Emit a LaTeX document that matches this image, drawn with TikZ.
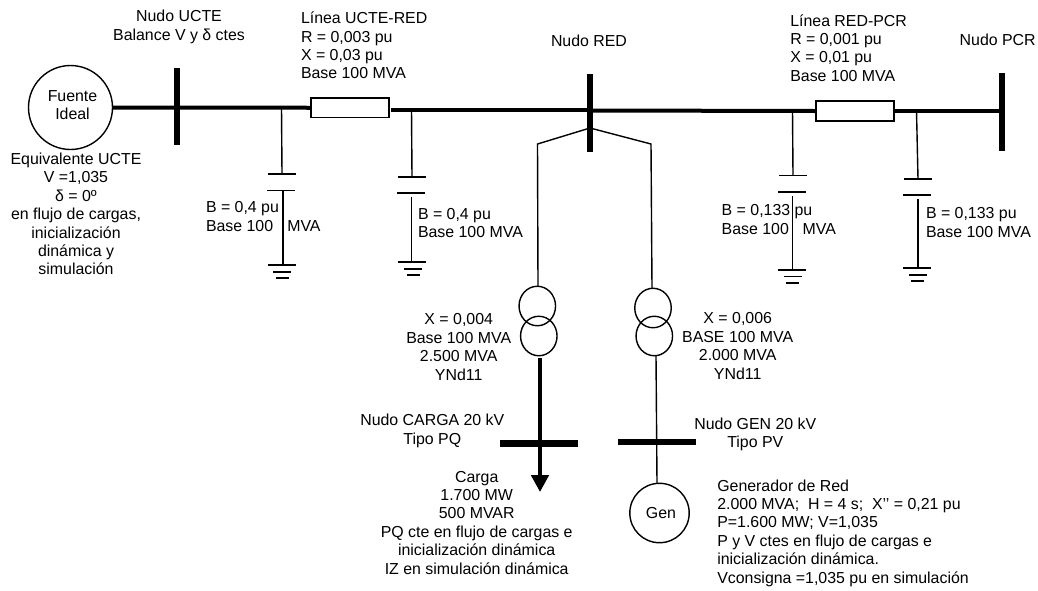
\documentclass[tikz,border=0pt]{standalone}
\usepackage{fontspec}
\setmainfont[Ligatures=NoCommon]{Liberation Sans}
\usetikzlibrary{shapes.geometric}
\tikzset{
  lbl/.style={inner sep=0pt,outer sep=0pt,align=center,font=\fontsize{15.9}{18.4}\selectfont},
  lbll/.style={lbl,align=left},
  hbus/.style={fill=black,inner sep=0pt,outer sep=0pt,minimum width=78pt,minimum height=6.5pt},
  vbus/.style={fill=black,inner sep=0pt,outer sep=0pt,minimum width=6.5pt,minimum height=78pt},
  res/.style={draw=black,fill=white,line width=1.3pt,inner sep=0pt,outer sep=0pt,minimum width=78pt,minimum height=19.5pt},
  plate/.style={fill=black,inner sep=0pt,outer sep=0pt,minimum width=28pt,minimum height=1.5pt},
  gndb/.style={plate,minimum width=18pt},
  gndc/.style={plate,minimum width=13pt},
  power/.style={line width=4pt},
  wire/.style={line width=1.4pt},
  machine/.style={draw=black,line width=1.4pt,circle,inner sep=0pt,outer sep=0pt},
  trafo/.style={draw=black,line width=1.4pt,ellipse,inner sep=0pt,outer sep=0pt,minimum width=36.5pt,minimum height=39.5pt},
  loadtip/.style={fill=black,isosceles triangle,isosceles triangle apex angle=58,shape border rotate=-90,inner sep=0pt,outer sep=0pt,minimum height=16.7pt,minimum width=17.5pt,anchor=apex}
}
\begin{document}
\begin{tikzpicture}[x=1pt,y=-1pt]
\useasboundingbox (0,0) rectangle (1038,590);
% machines, buses, line impedances
\node[machine,minimum size=84pt] (fuente) at (70.5,107.5) {};
\node[vbus,minimum height=77pt] (bucte) at (177,106.5) {};
\node[vbus] (bred) at (590,113) {};
\node[vbus] (bpcr) at (1002,112) {};
\node[res] (r1) at (350,107.75) {};
\node[res,minimum height=20pt] (r2) at (855,111) {};
\node[trafo] (t1a) at (537.3,306) {};
\node[trafo] (t2a) at (653,308) {};
\node[trafo] (t1b) at (538.8,336) {};
\node[trafo] (t2b) at (654.3,336) {};
\node[hbus] (bcarga) at (538.5,443.3) {};
\node[hbus] (bgen) at (657,442) {};
\node[machine,minimum size=59.4pt] (gen) at (659.5,513) {};
\node[loadtip] (tip) at (540,491.7) {};
% junction points
\coordinate (a1) at (281.5,107.5);
\coordinate (a2) at (411.5,109.5);
\coordinate (a3) at (792.5,110.5);
\coordinate (a4) at (916.5,110.5);
\coordinate (r1out) at (391,109.5);
\coordinate (r2out) at (895,110.5);
\coordinate (red2) at (592,110.5);
\coordinate (red1) at (590,109.5);
\coordinate (tapb) at (590,128);
\coordinate (fl) at (537.5,144);
\coordinate (fr) at (651,144);
\coordinate (t1top) at (538,286);
\coordinate (t2top) at (652,288);
\coordinate (t1bot) at (540,358);
\coordinate (t2bot) at (656,356);
\coordinate (gentop) at (657,483.3);
\coordinate (tiptop) at (540,476);
% shunt branches: plates and ground bars
\node[plate] (p1a) at (282,174) {};
\node[plate] (p1b) at (280.5,190.5) {};
\coordinate (s1a) at (283,191);
\coordinate (s1b) at (283,265);
\node[plate] (g1a) at (282,265) {};
\node[gndb] (g1b) at (282,272) {};
\node[gndc] (g1c) at (282.5,278) {};
\node[plate] (p2a) at (412,177) {};
\node[plate] (p2b) at (411,193) {};
\coordinate (s2a) at (411.5,197);
\coordinate (s2b) at (411.5,262);
\node[plate] (g2a) at (412,262) {};
\node[gndb] (g2b) at (412.5,269) {};
\node[gndc] (g2c) at (413,275) {};
\node[plate] (p3a) at (793,175.5) {};
\node[plate] (p3b) at (792,192) {};
\coordinate (s3a) at (792.5,196);
\coordinate (s3b) at (792.5,270);
\node[plate] (g3a) at (792,270) {};
\node[gndb] (g3b) at (793,276.5) {};
\node[gndc] (g3c) at (792.5,283) {};
\node[plate] (p4a) at (918,179) {};
\node[plate] (p4b) at (917,195) {};
\coordinate (s4a) at (918,199);
\coordinate (s4b) at (918,268);
\node[plate] (g4a) at (917,268) {};
\node[gndb] (g4b) at (918,275) {};
\node[gndc] (g4c) at (917.5,281) {};
% connectors
\draw[power] (fuente.east) -- (r1.west);
\draw[power] (r1out) -- (red1);
\draw[power] (red2) -- (r2.west);
\draw[power] (r2out) -- (bpcr.west |- r2out);
\draw[power] (t1bot) -- (tiptop);
\draw[wire] (tapb) -- (fl) -- (t1top);
\draw[wire] (tapb) -- (fr) -- (t2top);
\draw[wire] (t2bot) -- (gentop);
\draw[wire] (a1) -- (p1a);
\draw[wire] (s1a) -- (s1b);
\draw[wire] (a2) -- (p2a);
\draw[wire] (s2a) -- (s2b);
\draw[wire] (a3) -- (p3a);
\draw[wire] (s3a) -- (s3b);
\draw[wire] (a4) -- (s4a |- p4a);
\draw[wire] (s4a) -- (s4b);
% labels
\node[lbl] (l1) at (179,27) {Nudo UCTE\\Balance V y δ ctes};
\node[lbll,anchor=west] (l2) at (301,45.5) {Línea UCTE-RED\\R = 0,003 pu\\X = 0,03 pu\\Base 100 MVA};
\node[lbl] (l3) at (589,41) {Nudo RED};
\node[lbl] (l4) at (997.7,40) {Nudo PCR};
\node[lbll,anchor=west] (l5) at (790.3,48) {Línea RED-PCR\\R = 0,001 pu\\X = 0,01 pu\\Base 100 MVA};
\node[lbl] (l6) at (72.5,105) {Fuente\\Ideal};
\node[lbl] (l7) at (76,214) {Equivalente UCTE\\V =1,035\\δ = 0º\\en flujo de cargas,\\inicialización\\dinámica y\\simulación};
\node[lbll,anchor=west] (l8) at (206,216.5) {B = 0,4 pu\\Base 100\hspace{9.7pt} MVA};
\node[lbll,anchor=west] (l9) at (418,223) {B = 0,4 pu\\Base 100 MVA};
\node[lbll,anchor=west] (l10) at (721.7,219.5) {B = 0,133 pu\\Base 100\hspace{9.3pt} MVA};
\node[lbll,anchor=west] (l11) at (926,222.5) {B = 0,133 pu\\Base 100 MVA};
\node[lbl] (l12) at (458.7,347) {X = 0,004\\Base 100 MVA\\2.500 MVA\\YNd11};
\node[lbl] (l13) at (737.7,346) {X = 0,006\\BASE 100 MVA\\2.000 MVA\\YNd11};
\node[lbl] (l14) at (432.3,431) {Nudo CARGA 20 kV\\Tipo PQ};
\node[lbl] (l15) at (755.3,434.5) {Nudo GEN 20 kV\\Tipo PV};
\node[lbl] (l16) at (476.7,522.7) {Carga\\1.700 MW\\500 MVAR\\PQ cte en flujo de cargas e\\inicialización dinámica\\IZ en simulación dinámica};
\node[lbl] (l17) at (661,513) {Gen};
\node[lbll,anchor=west] (l18) at (717.3,533) {Generador de Red\\2.000 MVA;\ \ H = 4 s;\ \ X{'}{'} = 0,21 pu\\P=1.600 MW; V=1,035\\P y V ctes en flujo de cargas e\\inicialización dinámica.\\Vconsigna =1,035 pu en simulación};
\end{tikzpicture}
\end{document}
